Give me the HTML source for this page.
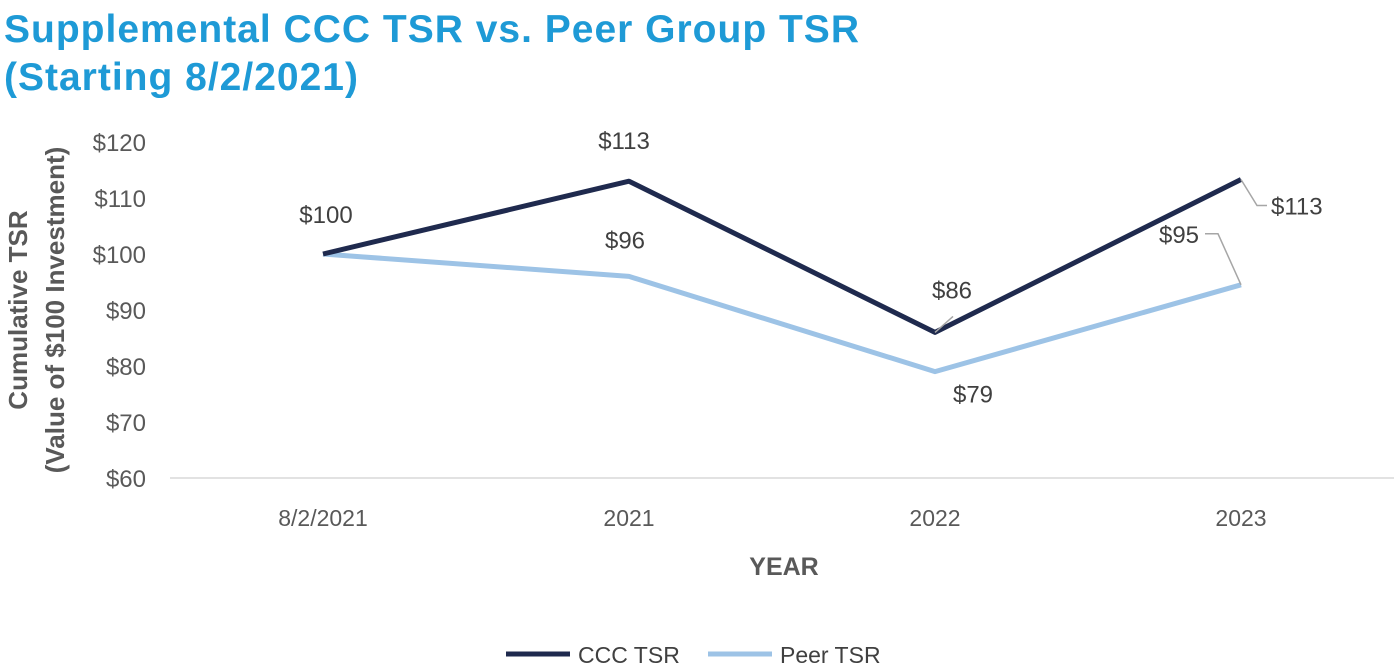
<!DOCTYPE html>
<html><head><meta charset="utf-8"><style>
body{margin:0;width:1394px;height:670px;background:#fff;overflow:hidden;font-family:"Liberation Sans",sans-serif}
.t{position:absolute;left:4px;color:#1e9ad6;font-weight:bold;font-size:39px;letter-spacing:1px}
</style></head><body>
<div class="t" style="top:8px">Supplemental CCC TSR vs. Peer Group TSR</div>
<div class="t" style="top:56px">(Starting 8/2/2021)</div>
<svg id="c" width="1394" height="670" style="position:absolute;left:0;top:0"></svg>
<script>
const categories=["8/2/2021","2021","2022","2023"];
const cccValues=[100,113,86,113.3];
const peerValues=[100,96,79,94.5];
const cccLabels=["$100","$113","$86","$113"];
const peerLabels=["$100","$96","$79","$95"];
const yTicks=[60,70,80,90,100,110,120];
const NS="http://www.w3.org/2000/svg",svg=document.getElementById('c');
const x0=170,bw=306,yTop=142,yBot=478;
const X=i=>x0+bw*(i+0.5);
const Y=v=>yBot-(v-60)/60*(yBot-yTop);
function mk(t,a,txt){const e=document.createElementNS(NS,t);for(const k in a)e.setAttribute(k,a[k]);if(txt!=null)e.textContent=txt;svg.appendChild(e);return e;}
let e=mk('line',{x1:x0,x2:1394,y1:yBot,y2:yBot,stroke:'#d9d9d9','stroke-width':1.5});

yTicks.forEach(v=>{const t=mk('text',{x:146,y:Y(v)+9,'text-anchor':'end','font-size':24,fill:'#595959'},'$'+v);
});
categories.forEach((c,i)=>{const t=mk('text',{x:X(i),y:526,'text-anchor':'middle','font-size':23,fill:'#595959'},c);
});
e=mk('text',{x:784,y:575,'text-anchor':'middle','font-size':25,'font-weight':'bold',fill:'#595959'},'YEAR');

e=mk('text',{transform:'translate(0,310) rotate(-90)','text-anchor':'middle','font-size':26,'font-weight':'bold',fill:'#595959'});

e.innerHTML='<tspan x="0" y="27">Cumulative TSR</tspan><tspan x="0" y="64">(Value of $100 Investment)</tspan>';
function series(vals,col,name){const p=mk('polyline',{points:vals.map((v,i)=>X(i)+','+Y(v)).join(' '),fill:'none',stroke:col,'stroke-width':5,'stroke-linejoin':'round'});
}
series(peerValues,'#9dc3e6','peer-tsr-line');
series(cccValues,'#1f2a4e','ccc-tsr-line');
function lab(txt,x,y,name,anchor){const t=mk('text',{x:x,y:y,'text-anchor':anchor||'middle','font-size':24,fill:'#404040'},txt);
}
const ld=(pts)=>{const l=mk('polyline',{points:pts,fill:'none',stroke:'#a6a6a6','stroke-width':1.5});};
lab(cccLabels[0],X(0)+3,Y(cccValues[0])-31,'ccc-label-0');
lab(cccLabels[1],X(1)-5,Y(cccValues[1])-32,'ccc-label-1');
lab(peerLabels[1],X(1)-4,Y(peerValues[1])-28,'peer-label-1');
lab(cccLabels[2],X(2)+17,Y(cccValues[2])-34,'ccc-label-2');
ld(`${X(2)},${Y(cccValues[2])} ${X(2)+18},${Y(cccValues[2])-16}`);
lab(peerLabels[2],X(2)+38,Y(peerValues[2])+31,'peer-label-2');
ld(`${X(3)},${Y(cccValues[3])} ${X(3)+16},${Y(cccValues[3])+26} ${X(3)+26},${Y(cccValues[3])+26}`);
lab(cccLabels[3],X(3)+30,Y(cccValues[3])+35,'ccc-label-3','start');
ld(`${X(3)},${Y(peerValues[3])} ${X(3)-23},${Y(peerValues[3])-51} ${X(3)-36},${Y(peerValues[3])-51}`);
lab(peerLabels[3],X(3)-62,Y(peerValues[3])-42,'peer-label-3');
[[506,'#1f2a4e','CCC TSR','legend-entry-ccc'],[708,'#9dc3e6','Peer TSR','legend-entry-peer']].forEach(([x,c,t,n])=>{
const g=mk('g',{});
const l=document.createElementNS(NS,'line');[['x1',x],['x2',x+64],['y1',654],['y2',654],['stroke',c],['stroke-width',5]].forEach(a=>l.setAttribute(a[0],a[1]));g.appendChild(l);
const tx=document.createElementNS(NS,'text');[['x',x+72],['y',663],['font-size',23],['fill','#404040']].forEach(a=>tx.setAttribute(a[0],a[1]));tx.textContent=t;g.appendChild(tx);});
</script>
</body></html>
